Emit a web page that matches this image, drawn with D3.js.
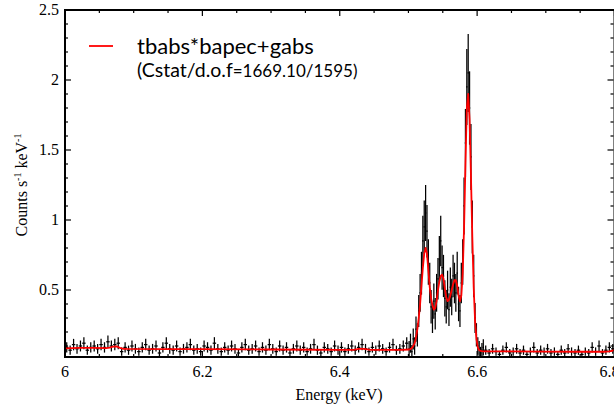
<!DOCTYPE html>
<html>
<head>
<meta charset="utf-8">
<script src="https://cdn.jsdelivr.net/npm/d3@7"></script>
<style>
  html, body { margin: 0; padding: 0; background: #fff; }
  svg { display: block; }
</style>
</head>
<body>
<svg id="chart" width="614" height="408"></svg>
<script>
// Binned spectrum: three energy segments, each with its own bin width (keV)
const segStart = [6.000, 6.500, 6.610];
const segWidth = [0.005, 0.002, 0.005];

// Segment 1: 6.000 - 6.500 keV
const rateA = [
  0.09, 0.07, 0.11, 0.08, 0.10, 0.12, 0.07, 0.09, 0.10, 0.08,
  0.11, 0.09, 0.13, 0.10, 0.11, 0.12, 0.06, 0.09, 0.07, 0.10,
  0.08, 0.06, 0.09, 0.11, 0.07, 0.08, 0.10, 0.05, 0.09, 0.12,
  0.08, 0.07, 0.10, 0.06, 0.08, 0.09, 0.11, 0.07, 0.08, 0.06,
  0.10, 0.09, 0.07, 0.12, 0.08, 0.06, 0.09, 0.07, 0.10, 0.08,
  0.05, 0.09, 0.11, 0.07, 0.08, 0.10, 0.06, 0.09, 0.07, 0.11,
  0.08, 0.06, 0.10, 0.07, 0.09, 0.05, 0.08, 0.10, 0.07, 0.09,
  0.06, 0.08, 0.11, 0.07, 0.05, 0.09, 0.08, 0.06, 0.10, 0.07,
  0.09, 0.06, 0.08, 0.10, 0.07, 0.09, 0.11, 0.08, 0.06, 0.09,
  0.07, 0.10, 0.08, 0.06, 0.09, 0.11, 0.07, 0.08, 0.10, 0.12
];
const errA = [
  0.037, 0.033, 0.041, 0.035, 0.039, 0.043, 0.033, 0.037, 0.039, 0.035,
  0.041, 0.037, 0.045, 0.039, 0.041, 0.043, 0.030, 0.037, 0.033, 0.039,
  0.035, 0.030, 0.037, 0.041, 0.033, 0.035, 0.039, 0.028, 0.037, 0.043,
  0.035, 0.033, 0.039, 0.030, 0.035, 0.037, 0.041, 0.033, 0.035, 0.030,
  0.039, 0.037, 0.033, 0.043, 0.035, 0.030, 0.037, 0.033, 0.039, 0.035,
  0.028, 0.037, 0.041, 0.033, 0.035, 0.039, 0.030, 0.037, 0.033, 0.041,
  0.035, 0.030, 0.039, 0.033, 0.037, 0.028, 0.035, 0.039, 0.033, 0.037,
  0.030, 0.035, 0.041, 0.033, 0.028, 0.037, 0.035, 0.030, 0.039, 0.033,
  0.037, 0.030, 0.035, 0.039, 0.033, 0.037, 0.041, 0.035, 0.030, 0.037,
  0.033, 0.039, 0.035, 0.030, 0.037, 0.041, 0.033, 0.035, 0.039, 0.043
];

// Segment 2: 6.500 - 6.610 keV (Fe K line complex)
const rateB = [
  0.08, 0.12, 0.06, 0.15, 0.10, 0.22, 0.18, 0.35, 0.48, 0.62,
  0.85, 0.95, 1.05, 0.92, 0.70, 0.55, 0.38, 0.30, 0.42, 0.33,
  0.48, 0.58, 0.72, 0.85, 0.66, 0.60, 0.44, 0.38, 0.50, 0.36,
  0.52, 0.45, 0.60, 0.55, 0.48, 0.62, 0.40, 0.35, 0.55, 0.70,
  1.10, 1.55, 1.95, 2.05, 1.80, 1.45, 0.95, 0.60, 0.30, 0.18,
  0.10, 0.08, 0.05, 0.07, 0.09
];
const errB = [
  0.055, 0.068, 0.048, 0.075, 0.062, 0.090, 0.083, 0.115, 0.135, 0.153,
  0.180, 0.190, 0.200, 0.187, 0.163, 0.145, 0.120, 0.107, 0.126, 0.112,
  0.135, 0.148, 0.165, 0.180, 0.158, 0.151, 0.129, 0.120, 0.138, 0.117,
  0.140, 0.131, 0.151, 0.145, 0.135, 0.153, 0.123, 0.115, 0.145, 0.163,
  0.204, 0.243, 0.272, 0.279, 0.262, 0.235, 0.190, 0.151, 0.107, 0.083,
  0.062, 0.055, 0.044, 0.052, 0.058
];

// Segment 3: 6.610 - 6.800 keV
const rateC = [
  0.07, 0.05, 0.08, 0.06, 0.04, 0.07, 0.09, 0.05, 0.06, 0.08,
  0.05, 0.07, 0.04, 0.06, 0.09, 0.05, 0.07, 0.06, 0.08, 0.05,
  0.06, 0.04, 0.07, 0.05, 0.08, 0.06, 0.05, 0.07, 0.04, 0.06,
  0.05, 0.09, 0.06, 0.10, 0.05, 0.07, 0.09, 0.08
];
const errC = [
  0.033, 0.028, 0.035, 0.030, 0.025, 0.033, 0.037, 0.028, 0.030, 0.035,
  0.028, 0.033, 0.025, 0.030, 0.037, 0.028, 0.033, 0.030, 0.035, 0.028,
  0.030, 0.025, 0.033, 0.028, 0.035, 0.030, 0.028, 0.033, 0.025, 0.030,
  0.028, 0.037, 0.030, 0.039, 0.028, 0.033, 0.037, 0.035
];

// Best-fit model (tbabs*bapec+gabs), sampled energies and folded rate
const modelEnergy = [
  6.000, 6.020, 6.040, 6.060, 6.065, 6.070, 6.075, 6.080, 6.085, 6.090,
  6.150, 6.200, 6.300, 6.400, 6.420, 6.428, 6.435, 6.445, 6.450, 6.490,
  6.501, 6.503, 6.505, 6.507, 6.509, 6.511, 6.513, 6.515, 6.517, 6.519,
  6.521, 6.523, 6.525, 6.527, 6.529, 6.531, 6.533, 6.535, 6.537, 6.539,
  6.541, 6.543, 6.545, 6.547, 6.549, 6.551, 6.553, 6.555, 6.557, 6.559,
  6.561, 6.563, 6.565, 6.567, 6.569, 6.571, 6.573, 6.575, 6.577, 6.579,
  6.581, 6.583, 6.585, 6.587, 6.589, 6.591, 6.593, 6.595, 6.597, 6.599,
  6.601, 6.603, 6.605, 6.607, 6.609, 6.650, 6.700, 6.750, 6.785, 6.792,
  6.797, 6.800
];
const modelRate = [
  0.083, 0.087, 0.086, 0.085, 0.088, 0.095, 0.097, 0.087, 0.080, 0.079,
  0.078, 0.077, 0.075, 0.072, 0.072, 0.079, 0.080, 0.073, 0.072, 0.073,
  0.075, 0.078, 0.085, 0.100, 0.120, 0.160, 0.220, 0.300, 0.400, 0.530,
  0.660, 0.760, 0.800, 0.760, 0.640, 0.520, 0.440, 0.390, 0.360, 0.370,
  0.420, 0.500, 0.560, 0.600, 0.610, 0.580, 0.510, 0.450, 0.420, 0.430,
  0.460, 0.500, 0.540, 0.570, 0.570, 0.530, 0.460, 0.420, 0.460, 0.620,
  0.950, 1.400, 1.800, 1.900, 1.720, 1.320, 0.880, 0.520, 0.280, 0.150,
  0.090, 0.070, 0.065, 0.063, 0.062, 0.061, 0.060, 0.059, 0.059, 0.061,
  0.066, 0.072
];

// Axis ticks
const xMajor = [6, 6.2, 6.4, 6.6, 6.8];
const xMajorLabels = ["6", "6.2", "6.4", "6.6", "6.8"];
const yMajor = [0.5, 1, 1.5, 2, 2.5];
const yMajorLabels = ["0.5", "1", "1.5", "2", "2.5"];
const xMinor = [6.05, 6.1, 6.15, 6.25, 6.3, 6.35, 6.45, 6.5, 6.55, 6.65, 6.7, 6.75];
const yMinor = [0.1, 0.2, 0.3, 0.4, 0.6, 0.7, 0.8, 0.9, 1.1, 1.2, 1.3, 1.4,
                1.6, 1.7, 1.8, 1.9, 2.1, 2.2, 2.3, 2.4];

const legendModel = "tbabs*bapec+gabs";
const legendStatA = "(Cstat/d.o.f";
const legendStatB = "=1669.10/1595)";

// Plot-area edges in pixels
const plotL = 65, plotR = 614.5, plotT = 10, plotB = 357;
const x = d3.scaleLinear().domain([6, 6.8]).range([plotL, plotR]);
const y = d3.scaleLinear().domain([0.0214, 2.5]).range([plotB, plotT]);

const svg = d3.select("#chart");
const serif = "'Liberation Serif', 'Times New Roman', serif";
const sans = "Lato, 'Open Sans', sans-serif";

svg.append("defs").append("clipPath").attr("id", "plotClip")
  .append("rect").attr("x", plotL).attr("y", plotT)
  .attr("width", plotR - plotL).attr("height", plotB - plotT);

// Flatten the three segments into bins
const bins = [];
[[rateA, errA], [rateB, errB], [rateC, errC]].forEach(([rates, errs], s) => {
  rates.forEach((r, i) => {
    const lo = segStart[s] + i * segWidth[s];
    bins.push({ lo: lo, hi: lo + segWidth[s], mid: lo + segWidth[s] / 2, rate: r, err: errs[i] });
  });
});

const plot = svg.append("g").attr("clip-path", "url(#plotClip)");

// Data: vertical error bars plus bin-width bars
const data = plot.append("g").attr("stroke", "#000").attr("stroke-width", 1.25);
data.selectAll("line.ey").data(bins).join("line")
  .attr("class", "ey")
  .attr("x1", d => x(d.mid)).attr("x2", d => x(d.mid))
  .attr("y1", d => y(d.rate - d.err)).attr("y2", d => y(d.rate + d.err));
data.selectAll("line.ex").data(bins).join("line")
  .attr("class", "ex")
  .attr("x1", d => x(d.lo)).attr("x2", d => x(d.hi))
  .attr("y1", d => y(d.rate)).attr("y2", d => y(d.rate));

// Model curve
const modelPts = modelEnergy.map((e, i) => [e, modelRate[i]]);
plot.append("path")
  .datum(modelPts)
  .attr("fill", "none")
  .attr("stroke", "#ff0000")
  .attr("stroke-width", 1.8)
  .attr("stroke-linejoin", "round")
  .attr("d", d3.line().x(d => x(d[0])).y(d => y(d[1])));

// Frame
svg.append("rect")
  .attr("x", plotL).attr("y", plotT)
  .attr("width", plotR - plotL).attr("height", plotB - plotT)
  .attr("fill", "none").attr("stroke", "#000").attr("stroke-width", 2);

// Inward ticks on all four sides
const ticks = svg.append("g").attr("stroke", "#000").attr("stroke-width", 1.2);
const xt = xMajor.map(v => ({ v, len: 6 })).concat(xMinor.map(v => ({ v, len: 3 })));
const yt = yMajor.map(v => ({ v, len: 6 })).concat(yMinor.map(v => ({ v, len: 3 })))
  .filter(d => y(d.v) >= plotT && y(d.v) <= plotB);
ticks.selectAll("line.xb").data(xt).join("line").attr("class", "xb")
  .attr("x1", d => x(d.v)).attr("x2", d => x(d.v))
  .attr("y1", plotB).attr("y2", d => plotB - d.len);
ticks.selectAll("line.xt").data(xt).join("line").attr("class", "xt")
  .attr("x1", d => x(d.v)).attr("x2", d => x(d.v))
  .attr("y1", plotT).attr("y2", d => plotT + d.len);
ticks.selectAll("line.yl").data(yt).join("line").attr("class", "yl")
  .attr("x1", plotL).attr("x2", d => plotL + d.len)
  .attr("y1", d => y(d.v)).attr("y2", d => y(d.v));
ticks.selectAll("line.yr").data(yt).join("line").attr("class", "yr")
  .attr("x1", plotR - 1).attr("x2", d => plotR - 1 - d.len)
  .attr("y1", d => y(d.v)).attr("y2", d => y(d.v));

// Tick labels (the last one runs off the page edge, nudged slightly inward)
svg.append("g").selectAll("text").data(xMajor).join("text")
  .attr("x", (d, i) => x(d) - (i === xMajor.length - 1 ? 5 : 0)).attr("y", 377)
  .attr("text-anchor", "middle")
  .attr("font-family", serif).attr("font-size", 16)
  .text((d, i) => xMajorLabels[i]);
svg.append("g").selectAll("text").data(yMajor).join("text")
  .attr("x", 59).attr("y", d => y(d) + 5)
  .attr("text-anchor", "end")
  .attr("font-family", serif).attr("font-size", 16)
  .text((d, i) => yMajorLabels[i]);

// Axis titles
svg.append("text")
  .attr("x", 339).attr("y", 400)
  .attr("text-anchor", "middle")
  .attr("font-family", serif).attr("font-size", 16)
  .text("Energy (keV)");

const yTitle = svg.append("text")
  .attr("transform", "translate(27,185) rotate(-90)")
  .attr("text-anchor", "middle")
  .attr("font-family", serif).attr("font-size", 16);
yTitle.append("tspan").text("Counts s");
yTitle.append("tspan").attr("dy", -6).attr("font-size", 10).text("-1");
yTitle.append("tspan").attr("dy", 6).text(" keV");
yTitle.append("tspan").attr("dy", -6).attr("font-size", 10).text("-1");

// Legend
svg.append("line")
  .attr("x1", 89).attr("x2", 113).attr("y1", 46).attr("y2", 46)
  .attr("stroke", "#ff0000").attr("stroke-width", 1.8);
svg.append("text")
  .attr("x", 137).attr("y", 54)
  .attr("font-family", sans).attr("font-size", 22)
  .text(legendModel);
const stat = svg.append("text")
  .attr("x", 137).attr("y", 77)
  .attr("font-family", sans).attr("font-size", 19.5);
stat.append("tspan").text(legendStatA);
stat.append("tspan").attr("font-size", 17).text(legendStatB);
</script>
</body>
</html>
